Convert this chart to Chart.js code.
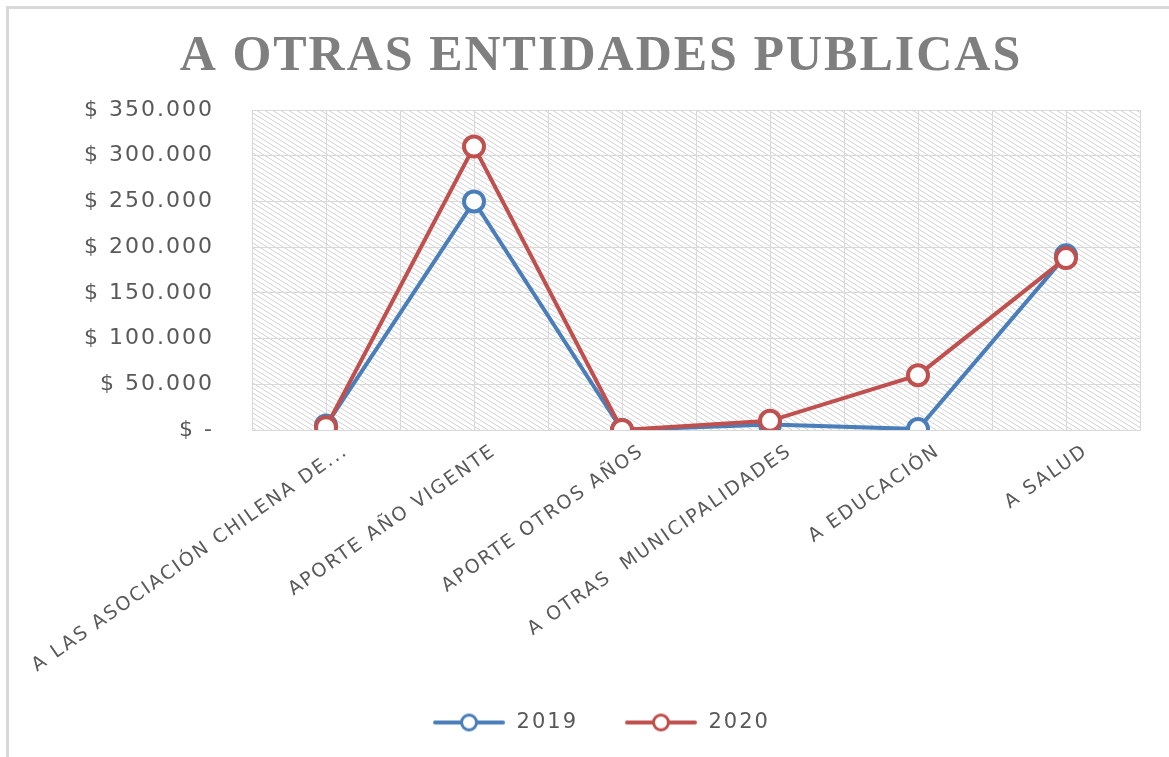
<!DOCTYPE html>
<html lang="es">
<head>
    <meta charset="UTF-8">
    <title>A otras entidades publicas</title>
    <script src="https://cdn.jsdelivr.net/npm/chart.js"></script>
    <style>
        html, body { margin: 0; padding: 0; background: #fff; }
        #frame {
            position: absolute; left: 6px; top: 6px;
            width: 1200px; height: 800px;
            border-left: 3px solid #d9d9d9;
            border-top: 3px solid #d9d9d9;
        }
        #wrap { position: absolute; left: 0; top: 0; width: 1169px; height: 757px; }
    </style>
</head>
<body>
    <div id="frame"></div>
    <div id="wrap"><canvas id="chart"></canvas></div>

    <script>
        const categories = [
            "A LAS ASOCIACIÓN CHILENA DE...",
            "APORTE AÑO VIGENTE",
            "APORTE OTROS AÑOS",
            "A OTRAS  MUNICIPALIDADES",
            "A EDUCACIÓN",
            "A SALUD"
        ];
        const values2019 = [5000, 250000, 0, 6000, 1000, 191000];
        const values2020 = [3000, 310000, 0, 10000, 60000, 188000];
        const seriesNames = ["2019", "2020"];
        const yTicks = [0, 50000, 100000, 150000, 200000, 250000, 300000, 350000];

        const blue = "#4a7ebb";
        const red = "#c0504d";
        const grey = "#595959";
        const gridColor = "#d9d9d9";

        // diagonal hatch for the plot area (tile wraps along the line)
        function makeHatch() {
            let c = document.createElement("canvas");
            c.width = 8; c.height = 5;
            let g = c.getContext("2d");
            g.strokeStyle = "#d2d2d2";
            g.lineWidth = 1;
            g.beginPath();
            for (let dx = -8; dx <= 8; dx += 8) {
                g.moveTo(dx - 8, -5); g.lineTo(dx + 16, 10);
            }
            g.stroke();
            return c;
        }

        // legend swatch: line with an open circle
        function makeSwatch(color) {
            let c = document.createElement("canvas");
            c.width = 74; c.height = 22;
            let g = c.getContext("2d");
            g.strokeStyle = color;
            g.lineWidth = 4;
            g.lineCap = "round";
            g.beginPath(); g.moveTo(3, 11); g.lineTo(71, 11); g.stroke();
            g.fillStyle = "#fff";
            g.lineWidth = 3;
            g.beginPath(); g.arc(37, 11, 7.5, 0, Math.PI * 2); g.fill(); g.stroke();
            return c;
        }

        const hatchPlugin = {
            id: "hatch",
            beforeDraw(chart) {
                let a = chart.chartArea;
                let ctx = chart.ctx;
                ctx.save();
                ctx.fillStyle = ctx.createPattern(makeHatch(), "repeat");
                ctx.fillRect(a.left, a.top, a.right - a.left, a.bottom - a.top);
                ctx.restore();
            }
        };

        // the original text is set wide; add a little tracking everywhere
        const spacingPlugin = {
            id: "spacing",
            beforeLayout(chart) { chart.ctx.letterSpacing = "2px"; },
            afterLayout(chart) {
                // x labels run below the (fixed) axis box; don't clip them
                chart.scales.x.bottom = chart.height;
            },
            beforeDraw(chart) { chart.ctx.letterSpacing = "2px"; }
        };

        const swatches = [makeSwatch(blue), makeSwatch(red)];

        new Chart(document.getElementById("chart"), {
            type: "line",
            data: {
                labels: categories,
                datasets: [
                    {
                        label: seriesNames[0],
                        data: values2019,
                        borderColor: blue,
                        backgroundColor: blue,
                        borderWidth: 4,
                        pointRadius: 10,
                        pointBorderWidth: 4,
                        pointBackgroundColor: "#fff",
                        pointBorderColor: blue,
                        tension: 0,
                        order: 1
                    },
                    {
                        label: seriesNames[1],
                        data: values2020,
                        borderColor: red,
                        backgroundColor: red,
                        borderWidth: 4,
                        pointRadius: 10,
                        pointBorderWidth: 4,
                        pointBackgroundColor: "#fff",
                        pointBorderColor: red,
                        tension: 0,
                        order: 0
                    }
                ]
            },
            options: {
                responsive: true,
                maintainAspectRatio: false,
                animation: false,
                layout: { padding: { left: 62, right: 29, top: 12, bottom: 14 } },
                plugins: {
                    title: {
                        display: true,
                        text: "A OTRAS ENTIDADES PUBLICAS",
                        color: "#7f7f7f",
                        font: { family: "Liberation Serif", size: 50, weight: "bold" },
                        padding: { top: 15, bottom: 23 }
                    },
                    legend: {
                        position: "bottom",
                        labels: {
                            usePointStyle: true,
                            pointStyleWidth: 74,
                            padding: 46,
                            color: grey,
                            font: { family: "DejaVu Sans", size: 21 },
                            generateLabels(chart) {
                                return chart.data.datasets.map((ds, i) => ({
                                    text: ds.label,
                                    pointStyle: swatches[i],
                                    fillStyle: ds.borderColor,
                                    strokeStyle: ds.borderColor,
                                    lineWidth: 0,
                                    fontColor: grey,
                                    hidden: false,
                                    datasetIndex: i
                                }));
                            }
                        }
                    },
                    tooltip: { enabled: false }
                },
                scales: {
                    x: {
                        offset: true,
                        grid: { offset: true, color: gridColor, drawTicks: false },
                        border: { color: gridColor },
                        afterFit(axis) {
                            axis.height = 236;
                            axis.paddingLeft = 0;
                            axis.paddingRight = 0;
                        },
                        ticks: {
                            color: grey,
                            font: { family: "DejaVu Sans", size: 19 },
                            minRotation: 35,
                            maxRotation: 35,
                            autoSkip: false,
                            labelOffset: 20,
                            padding: 10
                        }
                    },
                    x2: {
                        type: "category",
                        labels: categories,
                        position: "bottom",
                        offset: true,
                        grid: { offset: false, color: gridColor, drawTicks: false },
                        border: { display: false },
                        ticks: { display: false }
                    },
                    y: {
                        min: 0,
                        max: 350000,
                        afterBuildTicks(axis) {
                            axis.ticks = yTicks.map(v => ({ value: v }));
                        },
                        afterFit(axis) { axis.width = 190; },
                        grid: { color: gridColor, drawTicks: false },
                        border: { color: gridColor },
                        ticks: {
                            color: grey,
                            padding: 38,
                            font: { family: "DejaVu Sans", size: 22 },
                            callback: v => v === 0 ? "$ -" : "$ " + v.toLocaleString("de-DE")
                        }
                    }
                }
            },
            plugins: [hatchPlugin, spacingPlugin]
        });
    </script>
</body>
</html>
